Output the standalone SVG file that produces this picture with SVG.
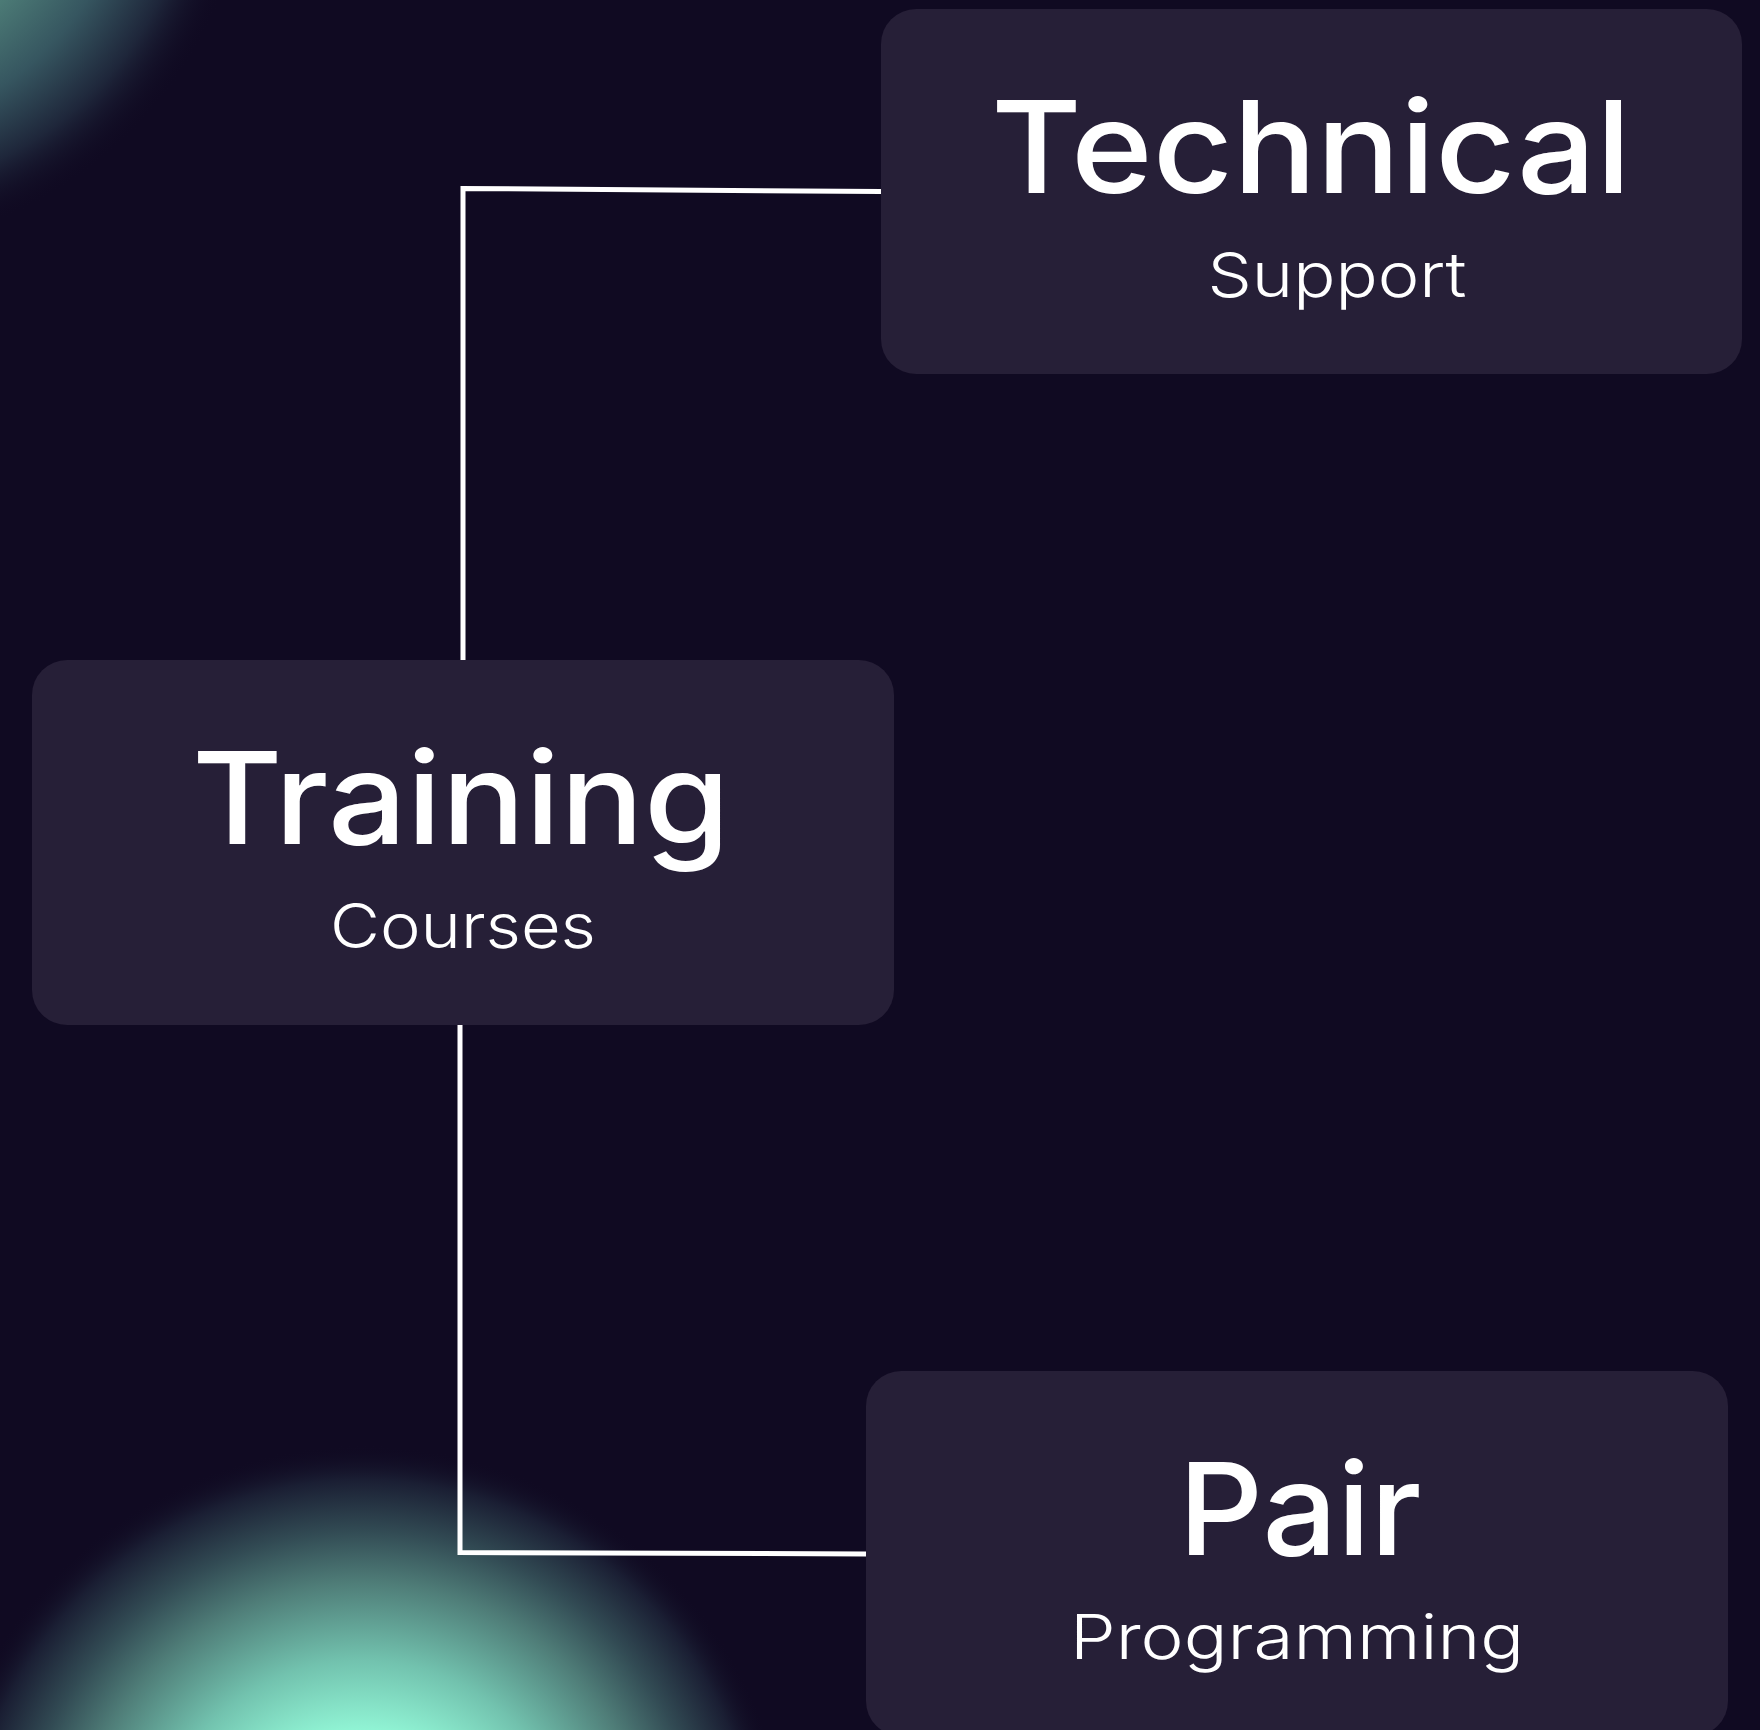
<svg xmlns="http://www.w3.org/2000/svg" width="1760" height="1730" viewBox="0 0 1760 1730">
<style>
.box{fill:#261f37}
.title{font-family:Inter,"Open Sans","Liberation Sans",sans-serif;font-weight:500;font-size:128px;fill:#ffffff;text-anchor:middle}
.sub{font-family:Inter,"Open Sans","Liberation Sans",sans-serif;font-weight:300;font-size:62px;fill:#ffffff;text-anchor:middle}
.conn{fill:none;stroke:#ffffff;stroke-width:5;stroke-linejoin:miter}
</style>
<defs>
<radialGradient id="glowB" gradientUnits="userSpaceOnUse" cx="362" cy="1875" r="430">
<stop offset="0" stop-color="#a0ffe2"/>
<stop offset="0.33" stop-color="#92f6d6"/>
<stop offset="0.5" stop-color="#72c2ae"/>
<stop offset="0.68" stop-color="#4f7d78"/>
<stop offset="0.8" stop-color="#324b54"/>
<stop offset="0.92" stop-color="#1a1e33"/>
<stop offset="1" stop-color="#100a22" stop-opacity="0"/>
</radialGradient>
<radialGradient id="glowT" gradientUnits="userSpaceOnUse" cx="-150" cy="-150" r="400">
<stop offset="0" stop-color="#7fd0bb"/>
<stop offset="0.53" stop-color="#4c7b76"/>
<stop offset="0.7" stop-color="#365660"/>
<stop offset="0.86" stop-color="#1e263a"/>
<stop offset="1" stop-color="#100a22" stop-opacity="0"/>
</radialGradient>
</defs>
<rect width="1760" height="1730" fill="#100a22"/>
<circle cx="-150" cy="-150" r="400" fill="url(#glowT)"/>
<circle cx="362" cy="1875" r="430" fill="url(#glowB)"/>
<g id="connectors">
<path class="conn" d="M881,191.5 L463,188.5 L463,660"/>
<path class="conn" d="M460,1025 L460,1552.5 L866,1554"/>
</g>
<g id="node-technical">
<rect class="box" x="881" y="9" width="861" height="365" rx="35"/>
<text class="title" x="1311" y="193" textLength="640" lengthAdjust="spacingAndGlyphs">Technical</text>
<text class="sub" x="1337" y="297" textLength="259" lengthAdjust="spacingAndGlyphs">Support</text>
</g>
<g id="node-training">
<rect class="box" x="32" y="660" width="862" height="365" rx="35"/>
<text class="title" x="461" y="844" textLength="538" lengthAdjust="spacingAndGlyphs">Training</text>
<text class="sub" x="463" y="948" textLength="266" lengthAdjust="spacingAndGlyphs">Courses</text>
</g>
<g id="node-pair">
<rect class="box" x="866" y="1371" width="862" height="365" rx="35"/>
<text class="title" x="1300" y="1555" textLength="243" lengthAdjust="spacingAndGlyphs">Pair</text>
<text class="sub" x="1297" y="1659" textLength="454" lengthAdjust="spacingAndGlyphs">Programming</text>
</g>
</svg>
